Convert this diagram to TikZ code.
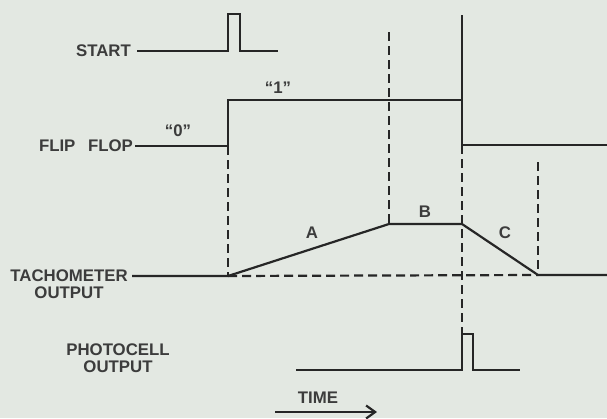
\documentclass[tikz,border=0pt]{standalone}
\usepackage{fontspec}
\setmainfont{Liberation Sans}
\usetikzlibrary{arrows.meta}
\definecolor{paper}{HTML}{E3E8E2}
\definecolor{ink}{HTML}{262626}
\begin{document}
\begin{tikzpicture}[x=1pt,y=-1pt,
  lbl/.style={font=\fontsize{16.8}{17}\selectfont\bfseries, text=ink!90, inner sep=0pt},
  wave/.style={draw=ink, line width=2.2pt, line join=miter},
  dashline/.style={draw=ink, line width=2.2pt, dash pattern=on 9pt off 5pt}]
\fill[paper] (0,0) rectangle (607,418);
\useasboundingbox (0,0) rectangle (607,418);
% labels
\node[lbl, anchor=east] (start) at (131,51) {START};
\node[lbl, anchor=east] (ff) at (133,146) {FLIP\hspace{0.75em}FLOP};
\node[lbl, align=center] (tach) at (69,284.5) {TACHOMETER\\OUTPUT};
\node[lbl, align=center] (photo) at (118,358.5) {PHOTOCELL\\OUTPUT};
\node[lbl] (one) at (278,88) {``1''};
\node[lbl] (zero) at (178,131) {``0''};
\node[lbl] (A) at (312,233) {A};
\node[lbl] (B) at (425,212) {B};
\node[lbl] (C) at (505,233) {C};
\node[lbl] (time) at (318,398) {TIME};
% coordinates
\coordinate (s0) at (137,51);
\coordinate (f0) at (135,146);
\coordinate (t0) at (132,276);
\coordinate (p0) at (296,370);
\coordinate (up) at (228,146);
\coordinate (stop) at (462,145);
\coordinate (tb0) at (228,276);
\coordinate (tb1) at (389,224);
\coordinate (tb2) at (462,224);
\coordinate (tb3) at (538,275);
% START
\draw[wave] (s0) -- (228,51) -- (228,14) -- (240,14) -- (240,51) -- (278,51);
% FLIP FLOP
\draw[wave] (f0) -- (up) -- (228,100) -- (462,100);
\draw[wave] (462,15) -- (stop) -- (607,145);
% dashed guides
\draw[dashline] (up) -- (tb0);
\draw[dashline] (389,32) -- (tb1);
\draw[dashline] (stop) -- (462,334);
\draw[dashline] (538,162) -- (tb3);
\draw[dashline] (tb0) -- (tb3);
% TACHOMETER
\draw[wave] (t0) -- (tb0) -- (tb1) -- (tb2) -- (tb3) -- (607,275);
% PHOTOCELL
\draw[wave] (p0) -- (462,370) -- (462,334) -- (473,334) -- (473,370) -- (520,370);
% TIME arrow
\coordinate (ta) at (275,412);
\coordinate (tb) at (377,412);
\draw[ink, line width=2.2pt, -{Straight Barb[length=9pt,width=13pt]}] (ta) -- (tb);
\end{tikzpicture}
\end{document}
